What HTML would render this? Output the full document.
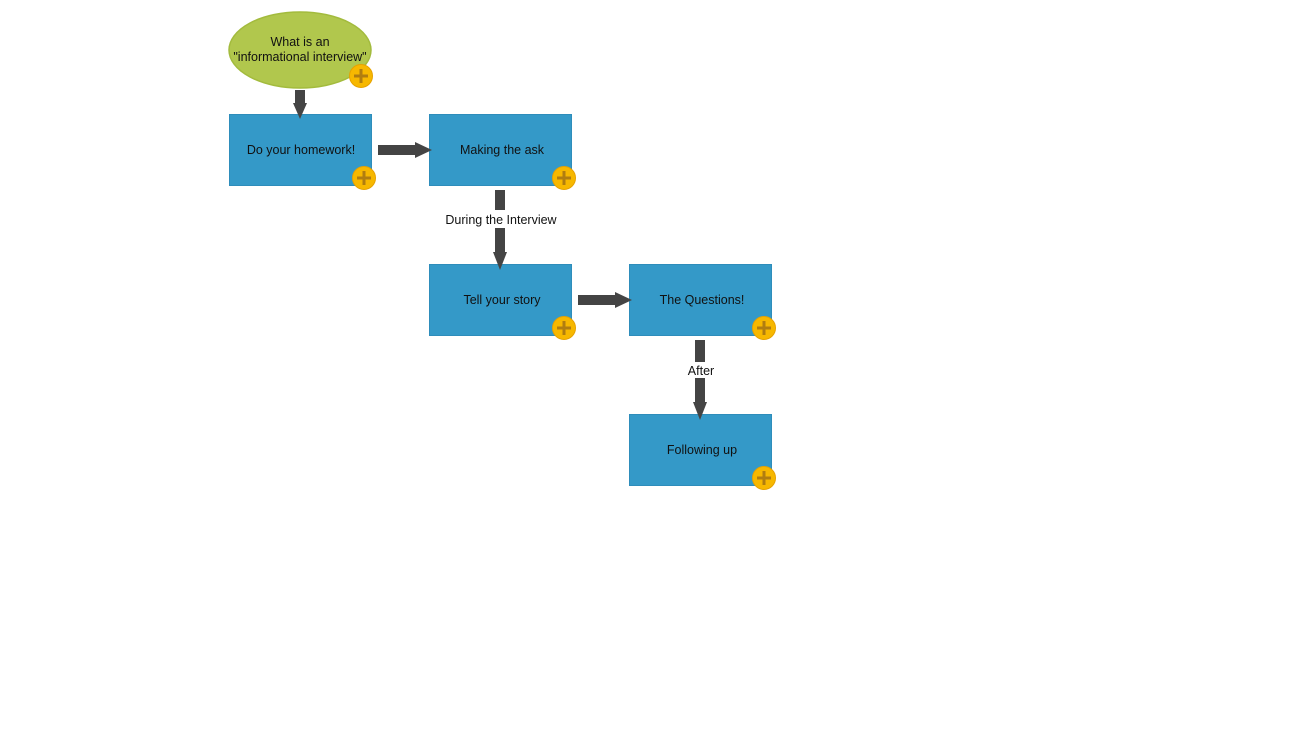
<!DOCTYPE html>
<html><head><style>
html,body{margin:0;padding:0;background:#fff;width:1300px;height:750px;overflow:hidden}
text{font-family:"Liberation Sans",Arial,sans-serif;font-size:12.5px;fill:#111}
</style></head><body>
<svg width="1300" height="750" xmlns="http://www.w3.org/2000/svg">
<defs>
<g id="plus">
<circle r="11.5" fill="#f7b800" stroke="#e6a200" stroke-width="1"/>
<rect x="-7" y="-1.5" width="14" height="3" fill="#b07d10"/>
<rect x="-1.5" y="-7" width="3" height="14" fill="#b07d10"/>
</g>
</defs>
<ellipse cx="300" cy="50" rx="71" ry="38" fill="#b1c74d" stroke="#a3bb3d" stroke-width="1.5"/>
<text x="300" y="46" text-anchor="middle">What is an</text>
<text x="300" y="61" text-anchor="middle">"informational interview"</text>
<g fill="#3499c8" stroke="#2e8dbb" stroke-width="1">
<rect x="229.5" y="114.5" width="142" height="71"/>
<rect x="429.5" y="114.5" width="142" height="71"/>
<rect x="429.5" y="264.5" width="142" height="71"/>
<rect x="629.5" y="264.5" width="142" height="71"/>
<rect x="629.5" y="414.5" width="142" height="71"/>
</g>
<text x="301" y="154" text-anchor="middle">Do your homework!</text>
<text x="502" y="154" text-anchor="middle">Making the ask</text>
<text x="502" y="304" text-anchor="middle">Tell your story</text>
<text x="702" y="304" text-anchor="middle">The Questions!</text>
<text x="702" y="454" text-anchor="middle">Following up</text>
<g fill="#444">
<rect x="295" y="90" width="10" height="14"/><polygon points="293,103 307,103 300,119"/>
<rect x="378" y="145" width="38" height="10"/><polygon points="415,142 415,158 432,150"/>
<rect x="495" y="190" width="10" height="20"/><rect x="495" y="228" width="10" height="26"/><polygon points="493,252 507,252 500,270"/>
<rect x="578" y="295" width="38" height="10"/><polygon points="615,292 615,308 632,300"/>
<rect x="695" y="340" width="10" height="22"/><rect x="695" y="378" width="10" height="26"/><polygon points="693,402 707,402 700,420"/>
</g>
<text x="501" y="224" text-anchor="middle">During the Interview</text>
<text x="701" y="375" text-anchor="middle">After</text>
<use href="#plus" x="361" y="76"/>
<use href="#plus" x="364" y="178"/>
<use href="#plus" x="564" y="178"/>
<use href="#plus" x="564" y="328"/>
<use href="#plus" x="764" y="328"/>
<use href="#plus" x="764" y="478"/>
</svg>
</body></html>
